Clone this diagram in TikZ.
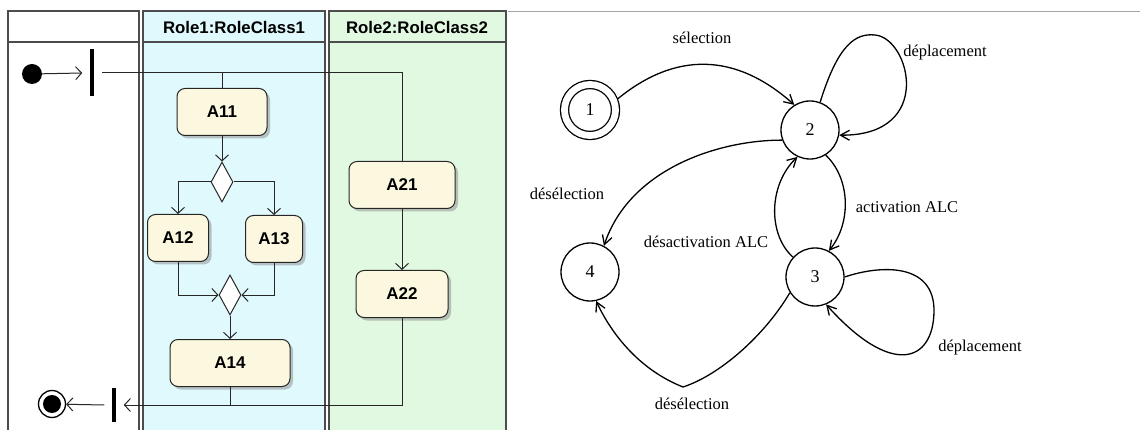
\documentclass[tikz,border=0pt]{standalone}
\usepackage{fontspec}
\setmainfont{Liberation Serif}
\setsansfont{Liberation Sans}
\usepackage{xcolor}
\usetikzlibrary{shapes,arrows.meta,positioning,calc,shadows}

\definecolor{laneone}{HTML}{DFF9FD}
\definecolor{lanetwo}{HTML}{E1F8E1}
\definecolor{actfill}{HTML}{FCF8DF}

\begin{document}
\begin{tikzpicture}[
      x=1pt, y=-1pt,
      lane/.style={draw=black!70, line width=1.2pt},
      lanehead/.style={font=\sffamily\bfseries\fontsize{16.8}{19}\selectfont},
      action/.style={rectangle, draw=black!85, line width=1pt, rounded corners=8pt, fill=actfill,
        minimum height=47pt, inner sep=0pt, font=\sffamily\bfseries\fontsize{17}{19}\selectfont,
        drop shadow={shadow xshift=3pt, shadow yshift=-3pt, fill=black!45}},
      decision/.style={diamond, draw=black!85, line width=1pt, fill=white, inner sep=0pt,
        minimum width=22pt, minimum height=40pt},
      bar/.style={rectangle, fill=black, inner sep=0pt, minimum width=3.5pt, outer xsep=8pt},
      flow/.style={draw=black!85, line width=1pt},
      uarrow/.style={flow, -{Straight Barb[length=6pt, width=13pt]}},
      state/.style={circle, draw, line width=1.3pt, minimum size=58pt, inner sep=0pt,
        font=\fontsize{18}{20}\selectfont},
      trans/.style={line width=1.3pt, -{Straight Barb[length=9pt, width=10pt]}},
      lbl/.style={font=\fontsize{16.5}{18}\selectfont, inner sep=0pt}
    ]
    \useasboundingbox (0,0) rectangle (1140,430);

    % ============ SWIMLANES ============
    \begin{scope}
      \clip (0,0) rectangle (1140,430);
      \draw[lane, fill=white] (8,11) rectangle (139,436);
      \draw[lane] (8,42) -- (139,42);
      \draw[lane, fill=laneone] (143,11) rectangle (325,436);
      \draw[lane] (143,42) -- (325,42);
      \draw[lane, fill=lanetwo] (329,11) rectangle (506,436);
      \draw[lane] (329,42) -- (506,42);
    \end{scope}
    \draw[black!35, line width=0.8pt] (508,11) -- (1140,11);

    \node[lanehead] (role1) at (234,27) {Role1:RoleClass1};
    \node[lanehead] (role2) at (417,27) {Role2:RoleClass2};

    % ============ ACTIVITY ============
    % start and fork
    \node[circle, fill=black, minimum size=20pt, inner sep=0pt] (init) at (32,74) {};
    \node[bar, minimum height=47pt] (fork) at (92,73) {};

    % actions of role 1
    \node[action, minimum width=90pt] (A11) at (222,112) {A11};
    \node[decision] (d1) at (222,182) {};
    \node[action, minimum width=61pt] (A12) at (178,238) {A12};
    \node[action, minimum width=57pt] (A13) at (274,239) {A13};
    \node[decision] (d2) at (230,295) {};
    \node[action, minimum width=120pt] (A14) at (230,363) {A14};

    % actions of role 2
    \node[action, minimum width=106pt] (A21) at (402,185) {A21};
    \node[action, minimum width=92pt] (A22) at (402,294) {A22};

    % join and end
    \node[bar, minimum height=34pt] (join) at (114,405) {};
    \node[circle, draw, line width=1.3pt, minimum size=27pt, inner sep=0pt] (final) at (52,404) {};
    \node[circle, fill=black, minimum size=18pt, inner sep=0pt] (finaldot) at (final) {};

    % flows
    \draw[uarrow] (init) -- (fork.west);
    \draw[flow] (fork.east) -| (A21.north);
    \draw[flow] (A11.north) -- (A11.north |- fork.east);
    \draw[uarrow] (A11) -- (d1);
    \draw[uarrow] (d1.west) -| (A12.north);
    \draw[uarrow] (d1.east) -| (A13.north);
    \draw[uarrow] (A12.south) |- (d2.west);
    \draw[uarrow] (A13.south) |- (d2.east);
    \draw[uarrow] (d2) -- (A14);
    \draw[uarrow] (A21) -- (A22);
    \draw[uarrow] (A22.south) |- (join.east);
    \draw[flow] (A14.south) -- (A14.south |- join.east);
    \draw[uarrow] (join.west) -- (final);

    % ============ STATES ============
    \node[state, minimum size=51pt, double, double distance=6.8pt, outer sep=4.5pt] (s1) at (590,110) {1};
    \node[state] (s2) at (810,130) {2};
    \node[state] (s3) at (815,277) {3};
    \node[state] (s4) at (590,272) {4};

    % transitions
    \draw[trans] (s1.22) .. controls (675,52) and (735,52) .. (s2.122);
    \draw[trans] (s2.70) .. controls (838,45) and (855,33) .. (875,35)
      .. controls (910,38) and (935,136) .. (s2.-10);
    \draw[trans] (s2.200) .. controls (720,140) and (630,168) .. (s4.62);
    \draw[trans] (s2.-58) .. controls (850,178) and (852,222) .. (s3.62);
    \draw[trans] (s3.138) .. controls (768,235) and (768,185) .. (s2.245);
    \draw[trans] (s3.0) .. controls (880,265) and (935,262) .. (934,312)
      .. controls (933,362) and (892,378) .. (s3.-68);
    \draw[trans] (s3.212) .. controls (765,335) and (720,375) .. (683,387)
      .. controls (640,370) and (612,335) .. (s4.-78);

    % labels
    \node[lbl] (lsel) at (702,38) {sélection};
    \node[lbl] (ldep2) at (945,53) {déplacement};
    \node[lbl] (ldes2) at (567,194) {désélection};
    \node[lbl] (lact) at (907,207) {activation ALC};
    \node[lbl] (ldeact) at (706,242) {désactivation ALC};
    \node[lbl] (ldep3) at (980,348) {déplacement};
    \node[lbl] (ldes3) at (692,404) {désélection};

  \end{tikzpicture}
\end{document}
